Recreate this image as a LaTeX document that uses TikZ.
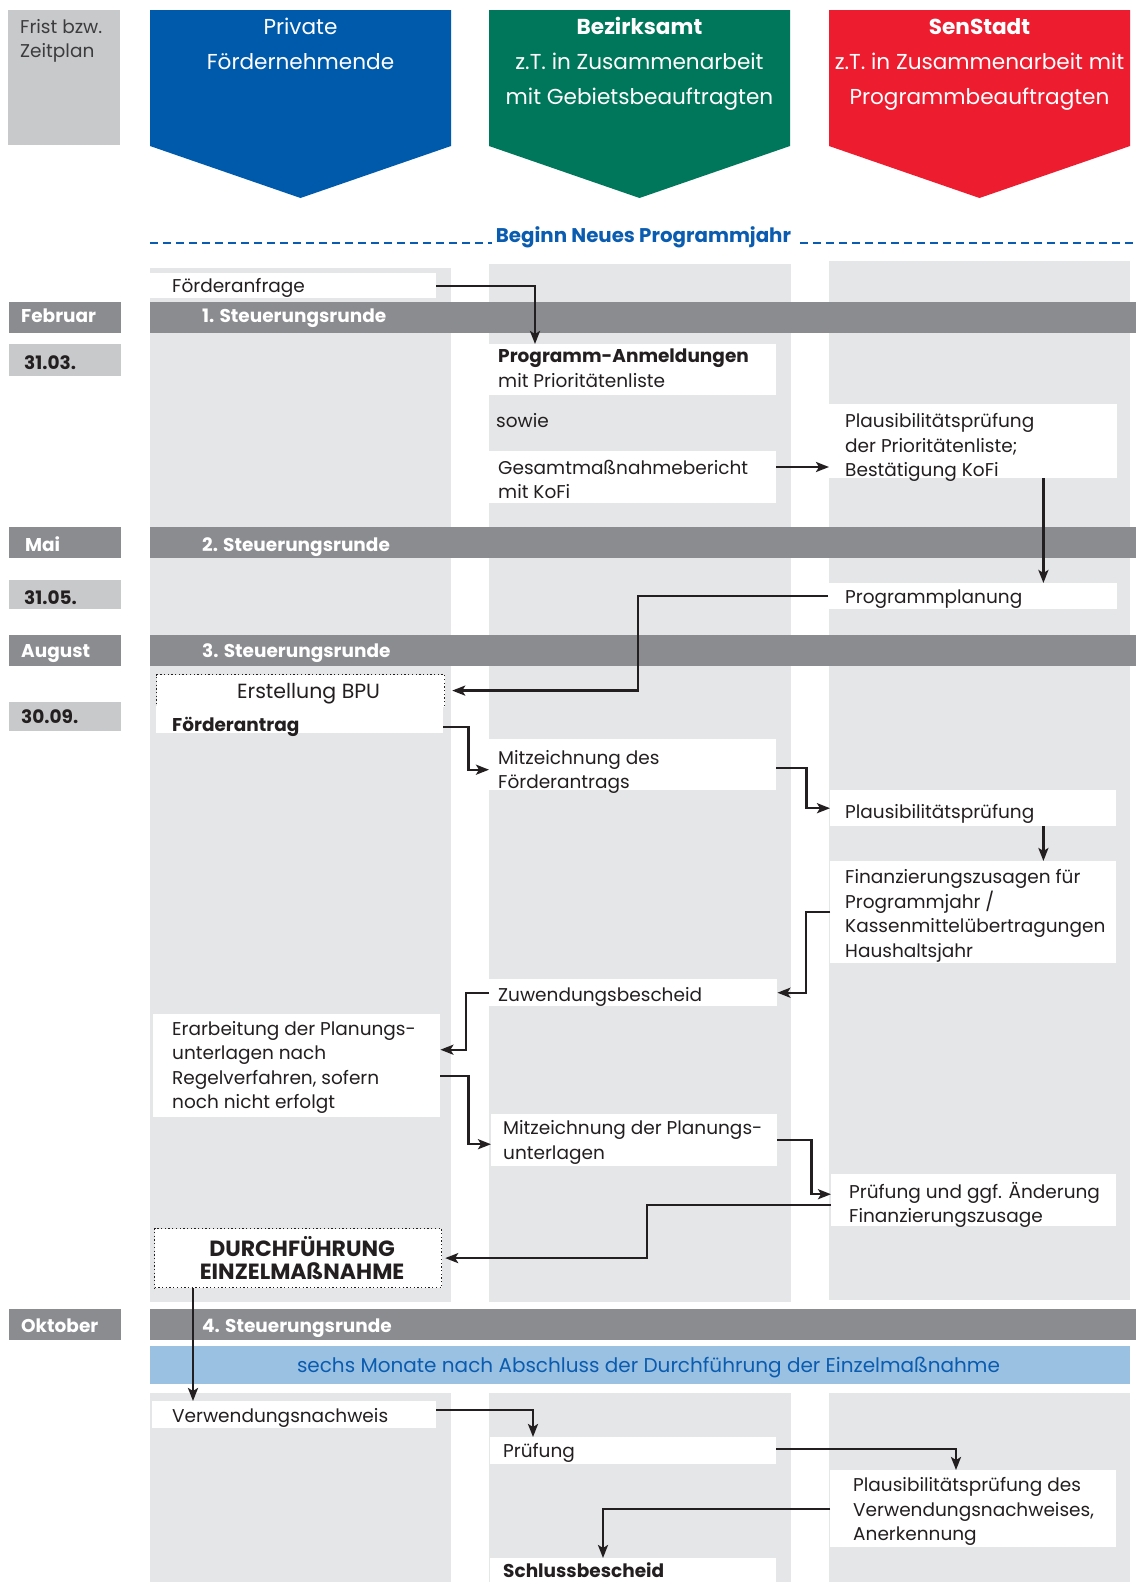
\documentclass[tikz,border=0pt]{standalone}
\usepackage{fontspec}
\setmainfont{Poppins}
\usetikzlibrary{arrows.meta}
\definecolor{hblue}{RGB}{0,90,171}
\definecolor{hgreen}{RGB}{0,119,90}
\definecolor{hred}{RGB}{237,28,47}
\definecolor{lgray}{RGB}{200,201,203}
\definecolor{dgray}{RGB}{139,140,144}
\definecolor{lanec}{RGB}{229,230,232}
\definecolor{lblue}{RGB}{155,193,226}
\definecolor{tblue}{RGB}{10,92,176}
\definecolor{ink}{RGB}{35,31,32}
\newcommand\fbody{\fontsize{18.5}{24.5}\selectfont}
\newcommand\fhead{\fontsize{21.6}{35}\selectfont}
\newcommand\flab{\bfseries\fontsize{18.5}{22}\selectfont}
\newcommand\fband{\fontsize{20}{22}\selectfont}
\newcommand\fbeg{\bfseries\fontsize{19.8}{22}\selectfont}
\newcommand\fbig{\bfseries\fontsize{22}{23.5}\selectfont}
\begin{document}
\begin{tikzpicture}[x=1pt,y=-1pt,
  box/.style={fill=white, anchor=north west, inner sep=0pt},
  dbox/.style={box, draw=ink, line width=1.2pt, dash pattern=on 1.3pt off 2.4pt},
  txt/.style={anchor=west, align=left, inner sep=0pt, font=\fbody, text=ink},
  head/.style={anchor=base, align=center, inner sep=0pt, text=white, font=\fhead},
  lab/.style={anchor=west, inner sep=0pt, text height=14pt, text depth=0pt, font=\flab, text=white},
  dlab/.style={lab, text=ink},
  arr/.style={draw=ink, line width=2.4pt, -{Stealth[length=13pt,width=10pt,inset=3pt]}}
]
\useasboundingbox[fill=white] (0,0) rectangle (1136,1582);

% header
\fill[lgray] (8,10) rectangle (120,145);
\node[anchor=base west, align=left, inner sep=0pt, font=\fontsize{18.5}{23.5}\selectfont, text={rgb,255:red,60;green,60;blue,62}] (frist) at (20,57) {Frist bzw.\\Zeitplan};
\fill[hblue] (150,10) -- (451,10) -- (451,146) -- (300.5,198) -- (150,146) -- cycle;
\node[head] (hpriv) at (300.5,69.5) {Private\\Fördernehmende};
\fill[hgreen] (489,10) -- (790,10) -- (790,146) -- (639.5,198) -- (489,146) -- cycle;
\node[head] (hbez) at (639.5,104.5) {\textbf{Bezirksamt}\\z.T. in Zusammenarbeit\\mit Gebietsbeauftragten};
\fill[hred] (829,10) -- (1130,10) -- (1130,146) -- (979.5,198) -- (829,146) -- cycle;
\node[head] (hsen) at (979.5,104.5) {\textbf{SenStadt}\\z.T. in Zusammenarbeit mit\\Programmbeauftragten};

% beginn line
\draw[tblue, line width=2pt, dash pattern=on 8pt off 5pt] (150,243) -- (1136,243);
\node[fill=white, inner xsep=4pt, inner ysep=3pt, font=\fbeg, text=tblue, anchor=base] (beginn) at (643.5,242) {Beginn Neues Programmjahr};

% lanes
\fill[lanec] (150,268) rectangle (451,1302);
\fill[lanec] (489,264) rectangle (791,1302);
\fill[lanec] (829,261) rectangle (1130,1300);
\fill[lanec] (150,1393) rectangle (451,1582);
\fill[lanec] (489,1393) rectangle (791,1582);
\fill[lanec] (829,1393) rectangle (1130,1582);

% bars
\fill[dgray] (150,302) rectangle (1136,333);
\fill[dgray] (9,302) rectangle (121,333);
\node[lab] (m1) at (21,315.5) {Februar};
\node[lab] (s1) at (202,315.5) {1. Steuerungsrunde};
\fill[lgray] (9,344) rectangle (121,376);
\node[dlab] (d1) at (24,362) {31.03.};

\fill[dgray] (150,527) rectangle (1136,558);
\fill[dgray] (9,527) rectangle (121,558);
\node[lab] (m2) at (25,544.5) {Mai};
\node[lab] (s2) at (202,544.5) {2. Steuerungsrunde};
\fill[lgray] (9,580) rectangle (121,609);
\node[dlab] (d2) at (24,597.5) {31.05.};

\fill[dgray] (150,635) rectangle (1136,666);
\fill[dgray] (9,635) rectangle (121,666);
\node[lab] (m3) at (21,650.5) {August};
\node[lab] (s3) at (202,650.5) {3. Steuerungsrunde};
\fill[lgray] (9,702) rectangle (121,731);
\node[dlab] (d3) at (21,716.5) {30.09.};

\fill[dgray] (150,1309) rectangle (1136,1340);
\fill[dgray] (9,1309) rectangle (121,1340);
\node[lab] (m4) at (21,1325.5) {Oktober};
\node[lab] (s4) at (202,1325.5) {4. Steuerungsrunde};

\fill[lblue] (150,1346) rectangle (1130,1384);
\node[inner sep=0pt, font=\fband, text=tblue] (band) at (648.5,1367) {sechs Monate nach Abschluss der Durchführung der Einzelmaßnahme};

% boxes
\node[box, minimum width=286pt, minimum height=25pt] (fa) at (150,273) {};
\node[txt, yshift=-2pt] (fat) at ([xshift=22pt]fa.west) {Förderanfrage};

\node[box, minimum width=287pt, minimum height=51pt] (pa) at (489,344) {};
\node[txt, yshift=1.5pt] (pat) at ([xshift=9pt]pa.west) {\textbf{Programm-Anmeldungen}\\mit Prioritätenliste};

\node[txt] (sowie) at (496,421) {sowie};

\node[box, minimum width=287pt, minimum height=52pt] (gm) at (489,451) {};
\node[txt, yshift=-2pt] (gmt) at ([xshift=9pt]gm.west) {Gesamtmaßnahmebericht\\mit KoFi};

\node[box, minimum width=288pt, minimum height=74pt] (pp1) at (829,404) {};
\node[txt, yshift=-6.5pt] (pp1t) at ([xshift=16pt]pp1.west) {Plausibilitätsprüfung\\der Prioritätenliste;\\Bestätigung KoFi};

\node[box, minimum width=289pt, minimum height=26pt] (pplan) at (828,583) {};
\node[txt, yshift=-3pt] (pplant) at ([xshift=17pt]pplan.west) {Programmplanung};

\node[dbox, minimum width=288pt, minimum height=32pt] (bpu) at (156,674) {};
\node[inner sep=0pt, font=\fontsize{20.5}{24}\selectfont, text=ink, yshift=-3pt] (bput) at ([xshift=8pt]bpu.center) {Erstellung BPU};

\node[box, minimum width=287pt, minimum height=27pt] (fan) at (156,706) {};
\node[txt, yshift=-7pt] (fant) at ([xshift=16pt]fan.west) {\textbf{Förderantrag}};

\node[box, minimum width=287pt, minimum height=51pt] (mz1) at (489,739) {};
\node[txt, yshift=-7pt] (mz1t) at ([xshift=9pt]mz1.west) {Mitzeichnung des\\Förderantrags};

\node[box, minimum width=286pt, minimum height=36pt] (pp2) at (830,790) {};
\node[txt, yshift=-6pt] (pp2t) at ([xshift=15pt]pp2.west) {Plausibilitätsprüfung};

\node[box, minimum width=286pt, minimum height=102pt] (fz) at (830,861) {};
\node[txt, yshift=-3.5pt] (fzt) at ([xshift=15pt]fz.west) {Finanzierungszusagen für\\Programmjahr /\\Kassenmittelübertragungen\\Haushaltsjahr};

\node[box, minimum width=288pt, minimum height=27pt] (zb) at (489,979) {};
\node[txt, yshift=-4pt] (zbt) at ([xshift=9pt]zb.west) {Zuwendungsbescheid};

\node[box, minimum width=287pt, minimum height=103pt] (er) at (153,1014) {};
\node[txt, yshift=-1.5pt] (ert) at ([xshift=19pt]er.west) {Erarbeitung der Planungs-\\unterlagen nach\\Regelverfahren, sofern\\noch nicht erfolgt};

\node[box, minimum width=286pt, minimum height=52pt] (mz2) at (491,1114) {};
\node[txt, yshift=-2pt] (mz2t) at ([xshift=12pt]mz2.west) {Mitzeichnung der Planungs-\\unterlagen};

\node[box, minimum width=285pt, minimum height=52pt] (pf) at (831,1174) {};
\node[txt, yshift=-4.5pt] (pft) at ([xshift=18pt]pf.west) {Prüfung und ggf. Änderung\\Finanzierungszusage};

\node[dbox, minimum width=287pt, minimum height=59pt] (df) at (154,1228) {};
\node[inner sep=0pt, align=center, font=\fbig, text=ink, xshift=4pt] (dft) at (df.center) {DURCHFÜHRUNG\\EINZELMAßNAHME};

\node[box, minimum width=284pt, minimum height=27pt] (vn) at (152,1401) {};
\node[txt, yshift=-3pt] (vnt) at ([xshift=20pt]vn.west) {Verwendungsnachweis};

\node[box, minimum width=286pt, minimum height=27pt] (pr) at (490,1437) {};
\node[txt, yshift=-2pt] (prt) at ([xshift=13pt]pr.west) {Prüfung};

\node[box, minimum width=286pt, minimum height=77pt] (pv) at (830,1470) {};
\node[txt, yshift=-3pt] (pvt) at ([xshift=23pt]pv.west) {Plausibilitätsprüfung des\\Verwendungsnachweises,\\Anerkennung};

\node[box, minimum width=286pt, minimum height=24pt] (sb) at (490,1558) {};
\node[txt] (sbt) at ([xshift=13pt]sb.west) {\textbf{Schlussbescheid}};

% connectors
\draw[arr] (fa.east) -| ([xshift=46pt]pa.north west);
\coordinate (c2) at ([yshift=-16pt]gm.north east);
\draw[arr] (c2) -- (c2 -| pp1.west);
\coordinate (c3) at ([xshift=-74pt]pp1.south east);
\draw[arr] (c3) -- (c3 |- pplan.north);
\draw[arr] (pplan.west) -- ++(-190pt,0pt) |- ([xshift=7pt]bpu.east);
\draw[arr] ([yshift=-7pt]fan.east) -- ++(25pt,0pt) |- ([yshift=-5pt]mz1.west);
\draw[arr] ([yshift=-3pt]mz1.east) -- ++(30pt,0pt) |- (pp2.west);
\coordinate (c7) at ([xshift=-73pt]pp2.south east);
\draw[arr] (c7) -- (c7 |- fz.north);
\draw[arr] (fz.west) -- ++(-24pt,0pt) |- (zb.east);
\draw[arr] (zb.west) -- ++(-23pt,0pt) |- ([yshift=16pt]er.east);
\draw[arr] ([yshift=-10pt]er.east) -- ++(28pt,0pt) |- ([yshift=-4pt]mz2.west);
\draw[arr] (mz2.east) -- ++(34pt,0pt) |- ([yshift=6pt]pf.west);
\draw[arr] ([yshift=-5pt]pf.west) -- ++(-184pt,0pt) |- ([xshift=3pt]df.east);
\coordinate (c13) at ([xshift=39pt]df.south west);
\draw[arr] (c13) -- (c13 |- vn.north);
\draw[arr] ([yshift=5pt]vn.east) -| ([xshift=43pt]pr.north west);
\draw[arr] ([yshift=2pt]pr.east) -| ([xshift=126pt]pv.north west);
\draw[arr] (pv.west) -| ([xshift=113pt]sb.north west);
\end{tikzpicture}
\end{document}
